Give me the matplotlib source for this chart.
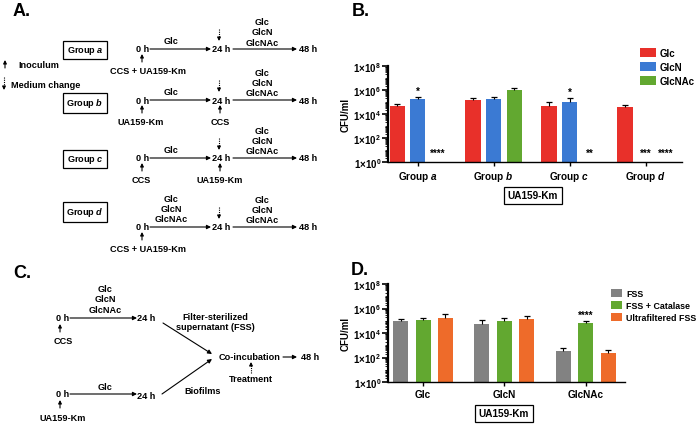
import matplotlib
matplotlib.use("Agg")
import matplotlib.pyplot as plt
import matplotlib.ticker as mticker
import numpy as np

plt.rcParams["font.family"] = ["Liberation Sans", "DejaVu Sans"]
plt.rcParams["font.weight"] = "bold"
plt.rcParams["mathtext.fontset"] = "custom"
plt.rcParams["mathtext.rm"] = "Liberation Sans:bold"
plt.rcParams["mathtext.it"] = "Liberation Sans:italic:bold"
plt.rcParams["mathtext.bf"] = "Liberation Sans:bold"
plt.rcParams["mathtext.default"] = "regular"

# ---- data, panel B ----
b_groups = ["Group $\\mathit{a}$", "Group $\\mathit{b}$", "Group $\\mathit{c}$", "Group $\\mathit{d}$"]
b_series = ["Glc", "GlcN", "GlcNAc"]
b_glc = [4.9e4, 1.38e5, 4.9e4, 3.6e4]
b_glc_err = [1.9e4, 6.2e4, 4.4e4, 2.4e4]
b_glcn = [1.66e5, 1.66e5, 1.07e5, np.nan]
b_glcn_err = [7.9e4, 1.09e5, 9.3e4, np.nan]
b_glcnac = [np.nan, 1.07e6, np.nan, np.nan]
b_glcnac_err = [np.nan, 3.1e5, np.nan, np.nan]
# (group, series, text) stars drawn above the bar / near the baseline
b_stars_top = [(0, 1, "*"), (2, 1, "*")]
b_stars_base = [(0, 2, "****"), (2, 2, "**"), (3, 1, "***"), (3, 2, "****")]

# ---- data, panel D ----
d_groups = ["Glc", "GlcN", "GlcNAc"]
d_series = ["FSS", "FSS + Catalase", "Ultrafiltered FSS"]
d_fss = [1.0e5, 5.4e4, 347]
d_fss_err = [3.8e4, 6.1e4, 270]
d_cat = [1.2e5, 1.0e5, 6.9e4]
d_cat_err = [4.6e4, 5.5e4, 3.1e4]
d_ultra = [1.78e5, 1.38e5, 251]
d_ultra_err = [1.77e5, 1.0e5, 166]
d_stars_top = [(2, 1, "****")]

b_colors = ["#E8302A", "#3B7AD3", "#62A830"]
d_colors = ["#828282", "#62A830", "#EE6B2A"]

FS = 6.6
W, H = 696, 427


def fx(px):
    return px / W


def fy(py):
    return 1 - py / H


def style_axis(ax):
    ax.set_yscale("log")
    ax.set_ylim(1, 1e8)
    ax.spines["top"].set_visible(False)
    ax.spines["right"].set_visible(False)
    ax.spines["left"].set_linewidth(1.6)
    ax.spines["bottom"].set_linewidth(1.0)
    ax.yaxis.set_major_locator(mticker.FixedLocator([1, 1e2, 1e4, 1e6, 1e8]))
    ax.yaxis.set_major_formatter(
        mticker.FuncFormatter(lambda v, p: "1×10$^{%d}$" % round(np.log10(v)))
    )
    ax.yaxis.set_minor_locator(
        mticker.LogLocator(base=10, subs=np.arange(1, 10), numticks=100)
    )
    ax.yaxis.set_minor_formatter(mticker.NullFormatter())
    ax.tick_params(axis="y", which="major", length=4, width=1.2, labelsize=7.0, pad=1)
    ax.tick_params(axis="y", which="minor", length=2, width=0.6)
    ax.tick_params(axis="x", length=3, width=1.0, labelsize=7.2, pad=2)
    ax.set_ylabel("CFU/ml", fontsize=7, fontweight="bold", labelpad=2)


def draw_bars(ax, series_vals, series_errs, colors, labels, offsets, width):
    x = np.arange(len(series_vals[0]))
    handles = []
    for vals, errs, col, lab, off in zip(series_vals, series_errs, colors, labels, offsets):
        vals = np.array(vals, float)
        errs = np.array(errs, float)
        ok = ~np.isnan(vals)
        h = ax.bar(x[ok] + off, vals[ok], width, bottom=1, color=col, label=lab, zorder=2)
        ax.vlines(x[ok] + off, vals[ok], vals[ok] + errs[ok], color="k", lw=0.8, zorder=3)
        ax.plot(x[ok] + off, vals[ok] + errs[ok], ls="none", marker="_",
                ms=4.5, mew=0.9, color="k", zorder=3)
        handles.append(h)
    return handles


fig = plt.figure(figsize=(W / 100, H / 100), dpi=100)

# overlay axes in pixel coordinates for the diagrams
ov = fig.add_axes([0, 0, 1, 1])
ov.set_xlim(0, W)
ov.set_ylim(H, 0)
ov.axis("off")


def txt(x, y, s, ha="center", va="center", size=FS, **kw):
    ov.text(x, y, s, ha=ha, va=va, fontsize=size, fontweight="bold", **kw)


def arrow(x0, y0, x1, y1, ms=6):
    ov.annotate("", xy=(x1, y1), xytext=(x0, y0),
                arrowprops=dict(arrowstyle="-|>", color="k", lw=0.8,
                                mutation_scale=ms, shrinkA=0, shrinkB=0))


def dotted_down(x, y0, y1):
    ov.plot([x, x], [y0, y1 - 3], color="k", lw=0.8, ls=(0, (1, 1)))
    arrow(x, y1 - 3.5, x, y1, ms=5)


def dotted_up(x, y0, y1):
    ov.plot([x, x], [y0, y1 + 3], color="k", lw=0.8, ls=(0, (1, 1)))
    arrow(x, y1 + 3.5, x, y1, ms=5)


def inoc(x, y):
    arrow(x, y + 8, x, y, ms=5)


# ---- panel A ----
txt(13, 12, "A.", ha="left", size=13)
inoc(5, 61)
txt(18, 66, "Inoculum", ha="left")
dotted_down(4, 78, 91)
txt(11, 85, "Medium change", ha="left")

media3 = "Glc\nGlcN\nGlcNAc"
rows = [
    # label, box y, row y, first medium, under 0 h, under 24 h
    ("Group $\\mathit{a}$", 51, 50, "Glc", "CCS + UA159-Km", None),
    ("Group $\\mathit{b}$", 104, 101, "Glc", "UA159-Km", "CCS"),
    ("Group $\\mathit{c}$", 160, 159, "Glc", "CCS", "UA159-Km"),
    ("Group $\\mathit{d}$", 213, 228, media3, "CCS + UA159-Km", None),
]
for lab, by, ry, first, under0, under24 in rows:
    txt(85, by, lab, size=FS,
        bbox=dict(boxstyle="square,pad=0.35", fc="white", ec="k", lw=0.9))
    txt(143, ry, "0 h")
    arrow(150, ry, 211, ry)
    txt(221, ry, "24 h")
    arrow(233, ry, 297, ry)
    txt(308, ry, "48 h")
    txt(171, ry - 4, first, va="bottom", linespacing=1.15)
    txt(262, ry - 2.5, media3, va="bottom", linespacing=1.15)
    dotted_down(219, ry - 20, ry - 8)
    inoc(142, ry + 5)
    if under0:
        txt(141 if under0 != "CCS + UA159-Km" else 148, ry + 21.5, under0)
    if under24:
        inoc(220, ry + 5)
        txt(220, ry + 21.5, under24)

# ---- panel C ----
txt(13, 274, "C.", ha="left", size=13)
txt(105, 300, media3, linespacing=1.15)
txt(63, 319, "0 h")
arrow(70, 319, 137, 319)
txt(146, 319, "24 h")
inoc(60, 325)
txt(63, 342, "CCS")
txt(215, 322.5, "Filter-sterilized\nsupernatant (FSS)", linespacing=1.25)
arrow(163, 324, 212, 355)
txt(250, 358, "Co-incubation")
arrow(283, 358, 297, 358)
txt(310, 358, "48 h")
dotted_up(251, 374, 363)
txt(251, 380, "Treatment")
txt(203, 392, "Biofilms")
txt(105, 388, "Glc")
txt(63, 395, "0 h")
arrow(70, 395, 137, 395)
txt(146, 397, "24 h")
arrow(162, 395, 212, 360)
inoc(60, 401)
txt(63, 419, "UA159-Km")

# ---- panel B ----
txt(352, 12, "B.", ha="left", size=13)
axb = fig.add_axes([fx(388), fy(163), fx(682 - 388), fy(67) - fy(163)])
b_off = [-0.27, 0.0, 0.27]
hb = draw_bars(axb, [b_glc, b_glcn, b_glcnac], [b_glc_err, b_glcn_err, b_glcnac_err],
               b_colors, b_series, b_off, 0.2)
style_axis(axb)
axb.set_xlim(-0.39, 3.48)
axb.set_xticks(np.arange(len(b_groups)))
axb.set_xticklabels(b_groups, fontweight="bold")
b_vals = [b_glc, b_glcn, b_glcnac]
b_errs = [b_glc_err, b_glcn_err, b_glcnac_err]
for g, s, t in b_stars_top:
    axb.text(g + b_off[s], (b_vals[s][g] + b_errs[s][g]) * 1.3, t, ha="center",
             va="bottom", fontsize=7, fontweight="bold")
for g, s, t in b_stars_base:
    axb.text(g + b_off[s], 2.2, t, ha="center", va="bottom", fontsize=7,
             fontweight="bold")
axb.legend(handles=hb, loc="upper left", bbox_to_anchor=(fx(640), fy(49)),
           bbox_transform=fig.transFigure, frameon=False, fontsize=7.0,
           handlelength=1.6, handleheight=1.1, labelspacing=0.4,
           handletextpad=0.45, borderpad=0, borderaxespad=0)
txt(533, 196, "UA159-Km", size=7.2,
    bbox=dict(boxstyle="square,pad=0.35", fc="white", ec="k", lw=0.9))

# ---- panel D ----
txt(351, 271, "D.", ha="left", size=13)
axd = fig.add_axes([fx(388), fy(383), fx(625 - 388), fy(285) - fy(383)])
d_off = [-0.276, 0.0, 0.276]
hd = draw_bars(axd, [d_fss, d_cat, d_ultra], [d_fss_err, d_cat_err, d_ultra_err],
               d_colors, d_series, d_off, 0.184)
style_axis(axd)
axd.set_xlim(-0.43, 2.48)
axd.set_xticks(np.arange(len(d_groups)))
axd.set_xticklabels(d_groups, fontweight="bold")
d_vals = [d_fss, d_cat, d_ultra]
d_errs = [d_fss_err, d_cat_err, d_ultra_err]
for g, s, t in d_stars_top:
    axd.text(g + d_off[s], (d_vals[s][g] + d_errs[s][g]) * 1.3, t, ha="center",
             va="bottom", fontsize=7, fontweight="bold")
axd.legend(handles=hd, loc="upper left", bbox_to_anchor=(fx(611), fy(290)),
           bbox_transform=fig.transFigure, frameon=False, fontsize=6.4,
           handlelength=1.2, handleheight=1.0, labelspacing=0.35,
           handletextpad=0.5, borderpad=0, borderaxespad=0)
txt(504, 414, "UA159-Km", size=7.2,
    bbox=dict(boxstyle="square,pad=0.35", fc="white", ec="k", lw=0.9))

fig.savefig("out.png", dpi=100)
